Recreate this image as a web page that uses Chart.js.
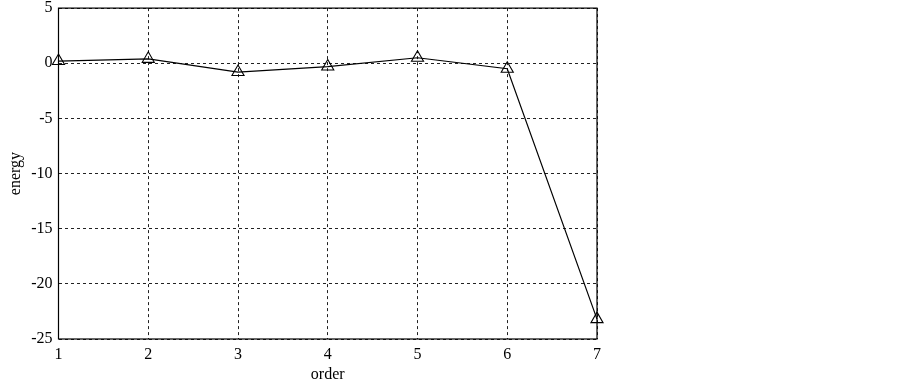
<!DOCTYPE html>
<html>
<head>
<meta charset="utf-8">
<script src="https://cdn.jsdelivr.net/npm/chart.js@4/dist/chart.umd.min.js"></script>
<style>
  html, body { margin: 0; padding: 0; background: #fff; }
  #wrap { width: 903px; height: 383px; }
</style>
</head>
<body>
<div id="wrap"><canvas id="chart" width="903" height="383"></canvas></div>
<script>
const orders = [1, 2, 3, 4, 5, 6, 7];
const energy = [0.2, 0.4, -0.8, -0.3, 0.5, -0.5, -23.2];
const yTicks = [5, 0, -5, -10, -15, -20, -25];

const serif = "'Liberation Serif', 'DejaVu Serif', serif";

// box round the plot, top and right included
const frame = {
  id: "frame",
  afterDraw(chart) {
    const { ctx, chartArea: a } = chart;
    ctx.save();
    ctx.strokeStyle = "#000";
    ctx.lineWidth = 1.2;
    ctx.setLineDash([]);
    ctx.strokeRect(a.left, a.top, a.right - a.left, a.bottom - a.top);
    ctx.restore();
  },
};

new Chart(document.getElementById("chart"), {
  type: "line",
  data: {
    datasets: [{
      data: orders.map((o, i) => ({ x: o, y: energy[i] })),
      borderColor: "#000",
      borderWidth: 1.2,
      pointStyle: "triangle",
      pointRadius: 7,
      pointBackgroundColor: "rgba(255,255,255,0)",
      pointBorderColor: "#000",
      pointBorderWidth: 1.1,
      tension: 0,
      clip: false,
    }],
  },
  options: {
    responsive: false,
    animation: false,
    layout: { padding: { left: 0, right: 306, top: 7.5, bottom: 0 } },
    plugins: { legend: { display: false }, tooltip: { enabled: false } },
    scales: {
      x: {
        type: "linear",
        min: 1,
        max: 7,
        afterFit: (s) => { s.height = 44; },
        afterBuildTicks: (s) => { s.ticks = orders.map((v) => ({ value: v })); },
        ticks: { color: "#000", font: { family: serif, size: 16 }, padding: 6 },
        grid: { color: "#222", drawTicks: false },
        border: { display: false, dash: [3, 3] },
        title: {
          display: true, text: "order", color: "#000",
          font: { family: serif, size: 16, lineHeight: 1 }, padding: { top: 0, bottom: 0 },
        },
      },
      y: {
        min: -25,
        max: 5,
        afterFit: (s) => { s.width = 58.5; s.paddingTop = 0; s.paddingBottom = 0; },
        afterBuildTicks: (s) => { s.ticks = yTicks.map((v) => ({ value: v })); },
        ticks: { color: "#000", font: { family: serif, size: 16 }, padding: 6 },
        grid: { color: "#222", drawTicks: false },
        border: { display: false, dash: [3, 3] },
        title: {
          display: true, text: "energy", color: "#000",
          font: { family: serif, size: 16 }, padding: { top: 6, bottom: 0 },
        },
      },
    },
  },
  plugins: [frame],
});
</script>
</body>
</html>
